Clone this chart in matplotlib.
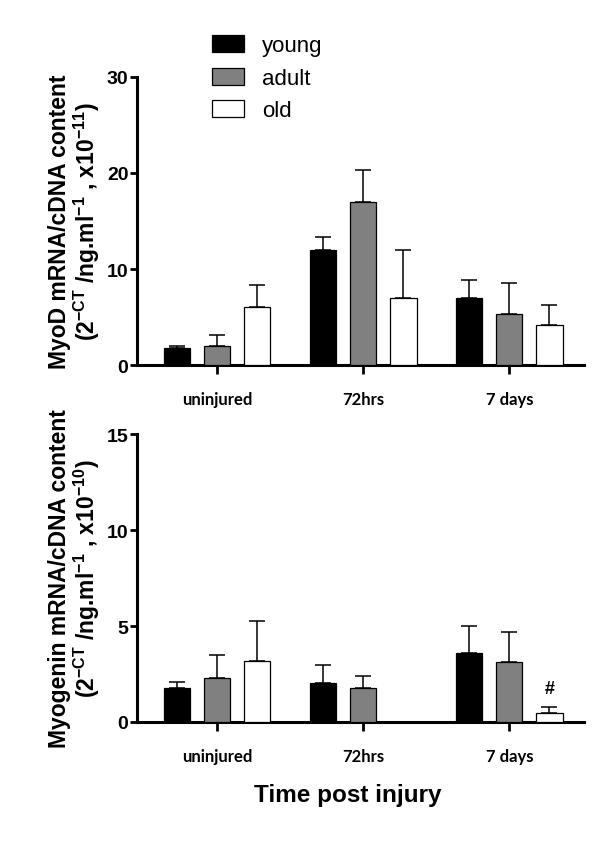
import matplotlib
matplotlib.use("Agg")
import matplotlib.pyplot as plt
import numpy as np

# MyoD / myogenin expression by age group and time after injury
groups = ["uninjured", "72hrs", "7 days"]
ages = ["young", "adult", "old"]
colors = ["black", "#808080", "white"]

myod = [[1.75, 12.0, 7.0],   # young
        [2.0, 17.0, 5.3],    # adult
        [6.0, 7.0, 4.15]]    # old
myod_err = [[0.2, 1.3, 1.9],
            [1.1, 3.3, 3.2],
            [2.3, 5.0, 2.1]]

myog = [[1.78, 2.05, 3.58],
        [2.27, 1.78, 3.1],
        [3.2, 0.0, 0.48]]
myog_err = [[0.28, 0.93, 1.4],
            [1.22, 0.62, 1.57],
            [2.08, 0.0, 0.3]]

plt.rcParams['font.family'] = ['Liberation Sans', 'DejaVu Sans']
plt.rcParams['mathtext.fontset'] = 'custom'
plt.rcParams['mathtext.rm'] = 'Liberation Sans:bold'
plt.rcParams['mathtext.it'] = 'Liberation Sans:bold'
plt.rcParams['mathtext.bf'] = 'Liberation Sans:bold'
plt.rcParams['mathtext.default'] = 'rm'

fig = plt.figure(figsize=(6, 8.54), dpi=100)
ax1 = fig.add_axes([0.228, 0.5714, 0.745, 0.3373])
ax2 = fig.add_axes([0.228, 0.1534, 0.745, 0.3372])

x = np.arange(len(groups))
width = 0.18
offset = 0.275


def draw(ax, vals, errs, ymax, step):
    for i in range(len(ages)):
        pos = x + (i - 1) * offset
        ax.bar(pos, vals[i], width, color=colors[i], edgecolor="black",
               linewidth=0.9, label=ages[i], zorder=3)
        ax.errorbar(pos, vals[i], yerr=[np.zeros(len(groups)), errs[i]],
                    fmt="none", ecolor="black", elinewidth=1.1,
                    capsize=6, capthick=1.1, zorder=2)
    ax.set_xlim(-0.55, 2.51)
    ax.set_ylim(0, ymax)
    ax.set_yticks(np.arange(0, ymax + 1, step))
    ax.set_xticks(x)
    ax.set_xticklabels(groups, fontfamily="Lato", fontweight="bold", fontsize=12)
    for s in ["top", "right"]:
        ax.spines[s].set_visible(False)
    for s in ["left", "bottom"]:
        ax.spines[s].set_linewidth(2.2)
    ax.tick_params(axis="y", length=5, width=2, labelsize=14, pad=1)
    ax.tick_params(axis="x", length=6.5, width=2, pad=12)
    for lab in ax.get_yticklabels():
        lab.set_fontweight("bold")


draw(ax1, myod, myod_err, 30, 10)
draw(ax2, myog, myog_err, 15, 5)

ax2.text(x[2] + offset, myog[2][2] + myog_err[2][2] + 0.5, "#",
         ha="center", va="bottom", fontsize=13, fontweight="bold")

fig.text(0.125, 0.74, "MyoD mRNA/cDNA content\n(2$^{-CT}$ /ng.ml$^{-1}$ , x10$^{-11}$)",
         rotation=90, ha="center", va="center", fontsize=16.5, fontweight="bold",
         multialignment="center", linespacing=1.05)
fig.text(0.125, 0.322, "Myogenin mRNA/cDNA content\n(2$^{-CT}$ /ng.ml$^{-1}$ , x10$^{-10}$)",
         rotation=90, ha="center", va="center", fontsize=16.5, fontweight="bold",
         multialignment="center", linespacing=1.05)

fig.text(0.58, 0.068, "Time post injury", ha="center", va="center",
         fontsize=17.5, fontweight="bold")

handles, labels = ax1.get_legend_handles_labels()
fig.legend(handles, labels, loc="upper left", bbox_to_anchor=(0.338, 0.968),
           frameon=False, fontsize=16, handlelength=1.45, handleheight=0.8,
           labelspacing=0.5, handletextpad=0.8, borderaxespad=0)

fig.savefig("out.png", dpi=100)
